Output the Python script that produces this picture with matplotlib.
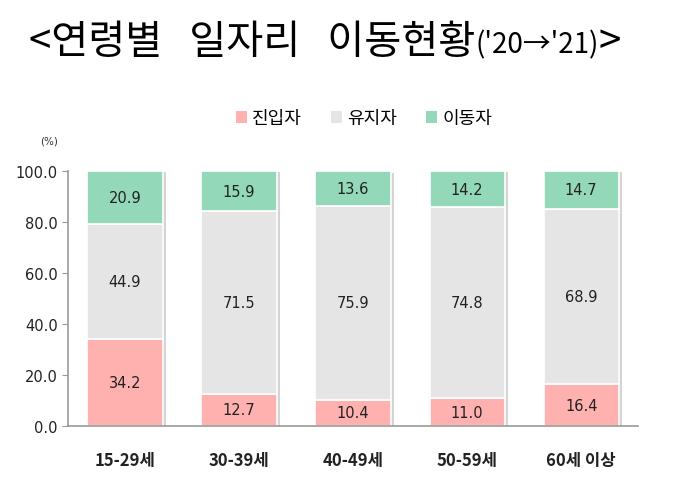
import matplotlib.pyplot as plt
import numpy as np
from matplotlib.patches import Patch

plt.rcParams['font.family'] = ['Noto Sans CJK KR', 'DejaVu Sans']

ages = ['15-29세', '30-39세', '40-49세', '50-59세', '60세 이상']
entry = [34.2, 12.7, 10.4, 11.0, 16.4]
stay = [44.9, 71.5, 75.9, 74.8, 68.9]
move = [20.9, 15.9, 13.6, 14.2, 14.7]
series_names = ['진입자', '유지자', '이동자']
colors = ['#FFB1B0', '#E5E5E5', '#93D8B8']
yticks = [0, 20, 40, 60, 80, 100]

fig = plt.figure(figsize=(6.87, 4.81), dpi=100)
ax = fig.add_axes([0.099, 0.112, 0.83, 0.53])

x = np.arange(len(ages))
w = 0.66
bottom = np.zeros(len(ages))
for vals, col in zip([entry, stay, move], colors):
    vals = np.array(vals)
    # soft shadow on the right of each segment
    ax.bar(x + 0.03, vals, w, bottom=bottom - 0.5, color='#d4d4d4', zorder=1)
    ax.bar(x, vals, w, bottom=bottom, color=col, edgecolor='white', linewidth=1.2, zorder=2)
    for xi, b, v in zip(x, bottom, vals):
        ax.text(xi, b + v / 2, f'{v:.1f}', ha='center', va='center',
                fontsize=10.5, color='#222222', family='DejaVu Sans', zorder=3)
    bottom += vals

ax.set_xlim(-0.5, len(ages) - 0.5)
ax.set_ylim(0, 100)
ax.set_yticks(yticks)
ax.set_yticklabels([f'{t:.1f}' for t in yticks], family='DejaVu Sans', fontsize=10.5, color='#222222')
ax.set_xticks(x)
ax.set_xticklabels(ages, fontsize=12, fontweight='bold', color='#222222')
ax.tick_params(axis='x', length=0, pad=18)
ax.tick_params(axis='y', length=4, color='#999999', direction='out')
for s in ['top', 'right']:
    ax.spines[s].set_visible(False)
for s in ['left', 'bottom']:
    ax.spines[s].set_color('#999999')
    ax.spines[s].set_linewidth(1.2)

fig.text(0.058, 0.705, '(%)', fontsize=7.5, family='DejaVu Sans', color='#333333', ha='left', va='center')

handles = [Patch(facecolor=c, edgecolor='none') for c in colors]
fig.legend(handles, series_names, loc='center', bbox_to_anchor=(0.53, 0.752), ncol=3,
           frameon=False, fontsize=13, handlelength=0.6, handleheight=0.6,
           handletextpad=0.3, columnspacing=1.6)

# title: main part large, parenthetical smaller
fig.canvas.draw()
r = fig.canvas.get_renderer()
t1 = fig.text(0.042, 0.912, '<연령별   일자리   이동현황', fontsize=29, fontweight='medium',
              va='center', ha='left')
bb = t1.get_window_extent(r)
t2 = fig.text(bb.x1 / fig.bbox.width, 0.905, "('20→'21)", fontsize=20, va='center', ha='left',
              family=['Noto Sans CJK KR', 'DejaVu Sans'])
bb2 = t2.get_window_extent(r)
fig.text(bb2.x1 / fig.bbox.width, 0.912, '>', fontsize=29, fontweight='medium', va='center', ha='left')

fig.savefig('out.png', dpi=100)
